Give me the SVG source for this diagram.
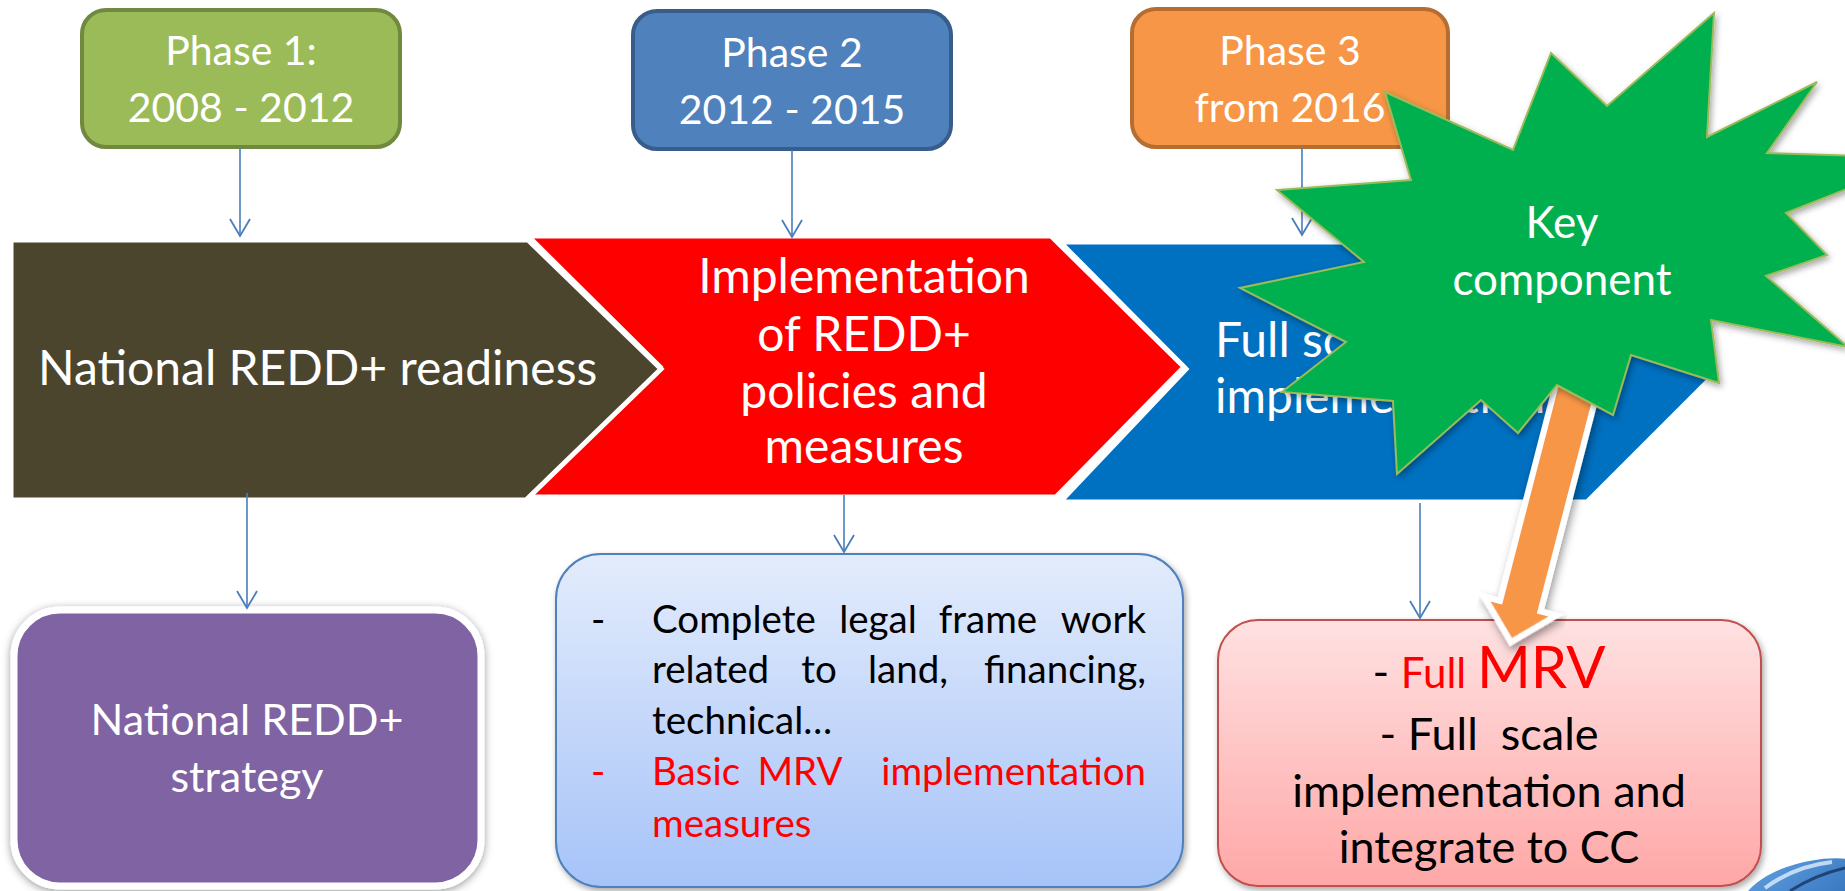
<svg xmlns="http://www.w3.org/2000/svg" width="1845" height="891" viewBox="0 0 1845 891">
  <defs>
    <style>
      .t { font-family: Lato, "Open Sans", "Liberation Sans", sans-serif; }
      .w { fill: #ffffff; }
      .k { fill: #000000; }
      .r { fill: #ff0000; }
      .ph { font-size: 41px; text-anchor: middle; }
      .big { font-size: 48px; }
      .mid { font-size: 43px; text-anchor: middle; }
      .key { font-size: 44px; text-anchor: middle; }
      .body { font-size: 38.5px; }
      .pk { font-size: 45px; text-anchor: middle; }
      .conn { stroke: #4a7ebb; stroke-width: 1.6; fill: none; marker-end: url(#vee); }
      .chev { stroke: #ffffff; stroke-width: 5; stroke-linejoin: miter; }
    </style>
    <marker id="vee" viewBox="-20 -12 23 24" refX="0" refY="0" markerWidth="23" markerHeight="24" markerUnits="userSpaceOnUse" orient="auto">
      <path d="M-17,-10 L0,0 L-17,10" fill="none" stroke="#4a7ebb" stroke-width="1.8"/>
    </marker>
    <linearGradient id="gBlue" x1="0" y1="0" x2="0" y2="1">
      <stop offset="0" stop-color="#e3ecfc"/>
      <stop offset="1" stop-color="#a6c3f8"/>
    </linearGradient>
    <linearGradient id="gPink" x1="0" y1="0" x2="0" y2="1">
      <stop offset="0" stop-color="#ffe1e1"/>
      <stop offset="1" stop-color="#ffa7a7"/>
    </linearGradient>
    <linearGradient id="gDisc" x1="0" y1="0" x2="1" y2="1">
      <stop offset="0" stop-color="#5f9fe0"/>
      <stop offset="1" stop-color="#1d5ba8"/>
    </linearGradient>
    <filter id="shadow" x="-10%" y="-10%" width="125%" height="130%">
      <feDropShadow dx="2" dy="3" stdDeviation="3" flood-color="#000" flood-opacity="0.35"/>
    </filter>
    <filter id="halo" x="-10%" y="-10%" width="125%" height="130%">
      <feDropShadow dx="0" dy="2" stdDeviation="4" flood-color="#000" flood-opacity="0.4"/>
    </filter>
    <filter id="soft" x="-20%" y="-20%" width="150%" height="150%">
      <feDropShadow dx="3" dy="4" stdDeviation="4" flood-color="#000" flood-opacity="0.4"/>
    </filter>
  </defs>

  <rect width="1845" height="891" fill="#ffffff"/>

  <!-- phase boxes -->
  <g id="phase1">
    <rect x="82" y="10" width="318" height="137" rx="24" fill="#9bbb59" stroke="#71893f" stroke-width="4"/>
    <text class="t w ph" x="241" y="65">Phase 1:</text>
    <text class="t w ph" x="241" y="122">2008 - 2012</text>
  </g>
  <g id="phase2">
    <rect x="633" y="11" width="318" height="138" rx="24" fill="#4f81bd" stroke="#385d8a" stroke-width="4"/>
    <text class="t w ph" x="792" y="67">Phase 2</text>
    <text class="t w ph" x="792" y="124">2012 - 2015</text>
  </g>
  <g id="phase3">
    <rect x="1132" y="9" width="316" height="138" rx="24" fill="#f79646" stroke="#b66d31" stroke-width="4"/>
    <text class="t w ph" x="1290" y="65">Phase 3</text>
    <text class="t w ph" x="1290" y="122">from 2016</text>
  </g>

  <!-- process chevrons, drawn right to left so each overlaps the next -->
  <g id="fullScale">
    <polygon class="chev" points="1060,242 1587,242 1717,372 1587,502 1060,502 1186,369" fill="#0070c0"/>
    <text class="t w big" x="1215" y="357">Full scale</text>
    <text class="t w big" x="1215" y="413">implementation</text>
  </g>
  <g id="implementation">
    <polygon class="chev" points="528,236 1051,236 1184,367 1056,497 524,497 660,367" fill="#ff0000"/>
    <text class="t w big" x="864" y="293" text-anchor="middle">Implementation</text>
    <text class="t w big" x="864" y="351" text-anchor="middle">of REDD+</text>
    <text class="t w big" x="864" y="408" text-anchor="middle">policies and</text>
    <text class="t w big" x="864" y="463" text-anchor="middle">measures</text>
  </g>
  <g id="readiness">
    <polygon class="chev" points="11,240 528,240 661,369 526,500 11,500" fill="#4b452e"/>
    <text class="t w big" x="38" y="385">National REDD+ readiness</text>
  </g>

  <!-- corner disc -->
  <g id="disc">
    <ellipse cx="1818" cy="902" rx="80" ry="42" transform="rotate(-10 1818 902)" fill="url(#gDisc)"/>
    <path d="M1765,888 Q1795,866 1832,862" fill="none" stroke="#dfeefc" stroke-width="4" opacity="0.8"/>
    <path d="M1790,891 Q1815,875 1845,868" fill="none" stroke="#102a50" stroke-width="3" opacity="0.7"/>
  </g>

  <!-- outcome boxes -->
  <g id="strategy">
    <rect x="14" y="610" width="467" height="276" rx="46" fill="#8064a2" stroke="#ffffff" stroke-width="7" filter="url(#halo)"/>
    <text class="t w mid" x="247" y="735">National REDD+</text>
    <text class="t w mid" x="247" y="792">strategy</text>
  </g>
  <g id="policies">
    <rect x="556" y="554" width="627" height="333" rx="45" fill="url(#gBlue)" stroke="#4f81bd" stroke-width="2" filter="url(#shadow)"/>
    <text class="t k body" x="591" y="633">-</text>
    <text class="t k body" x="652" y="633">Complete</text>
    <text class="t k body" x="878" y="633" text-anchor="middle">legal</text>
    <text class="t k body" x="988" y="633" text-anchor="middle">frame</text>
    <text class="t k body" x="1146" y="633" text-anchor="end">work</text>
    <text class="t k body" x="652" y="683">related</text>
    <text class="t k body" x="819" y="683" text-anchor="middle">to</text>
    <text class="t k body" x="908" y="683" text-anchor="middle">land,</text>
    <text class="t k body" x="1146" y="683" text-anchor="end">financing,</text>
    <text class="t k body" x="652" y="734">technical…</text>
    <text class="t r body" x="591" y="785">-</text>
    <text class="t r body" x="652" y="785">Basic</text>
    <text class="t r body" x="800" y="785" text-anchor="middle">MRV</text>
    <text class="t r body" x="1146" y="785" text-anchor="end">implementation</text>
    <text class="t r body" x="652" y="837">measures</text>
  </g>
  <g id="fullMrv">
    <rect x="1218" y="620" width="543" height="266" rx="40" fill="url(#gPink)" stroke="#c0504d" stroke-width="2" filter="url(#shadow)"/>
    <text class="t k pk" x="1489" y="688">- <tspan class="r" font-size="42">Full </tspan><tspan class="r" font-size="58">MRV</tspan></text>
    <text class="t k pk" x="1489" y="750" xml:space="preserve">- Full  scale</text>
    <text class="t k pk" x="1489" y="807">implementation and</text>
    <text class="t k pk" x="1489" y="863">integrate to CC</text>
  </g>

  <!-- connectors -->
  <g id="connectors">
    <line class="conn" x1="240" y1="148" x2="240" y2="236"/>
    <line class="conn" x1="792" y1="150" x2="792" y2="237"/>
    <line class="conn" x1="1302" y1="148" x2="1302" y2="235"/>
    <line class="conn" x1="247" y1="493" x2="247" y2="608"/>
    <line class="conn" x1="844" y1="495" x2="844" y2="552"/>
    <line class="conn" x1="1420" y1="503" x2="1420" y2="618"/>
    <g id="keyArrow" transform="translate(1512 638) rotate(14.5)" filter="url(#soft)">
      <polygon points="0,0 30,-30 18,-30 18,-300 -18,-300 -18,-30 -30,-30" fill="#f79646" stroke="#ffffff" stroke-width="12" stroke-linejoin="miter" paint-order="stroke fill"/>
    </g>
  </g>

  <!-- callout burst -->
  <g id="keyComponent">
    <polygon points="1385,92 1513,150 1551,53 1607,106 1714,13 1707,137 1817,82 1767,153 1925,158 1786,213 1827,255 1766,276 1848,347 1711,320 1719,383 1631,355 1613,415 1557,385 1518,433 1481,400 1397,474 1393,401 1282,392 1346,342 1240,288 1364,262 1277,190 1411,180" fill="#00b050" stroke="#9bbb59" stroke-width="2" stroke-linejoin="miter" filter="url(#shadow)"/>
    <text class="t w key" x="1562" y="238">Key</text>
    <text class="t w key" x="1562" y="295">component</text>
  </g>
</svg>
